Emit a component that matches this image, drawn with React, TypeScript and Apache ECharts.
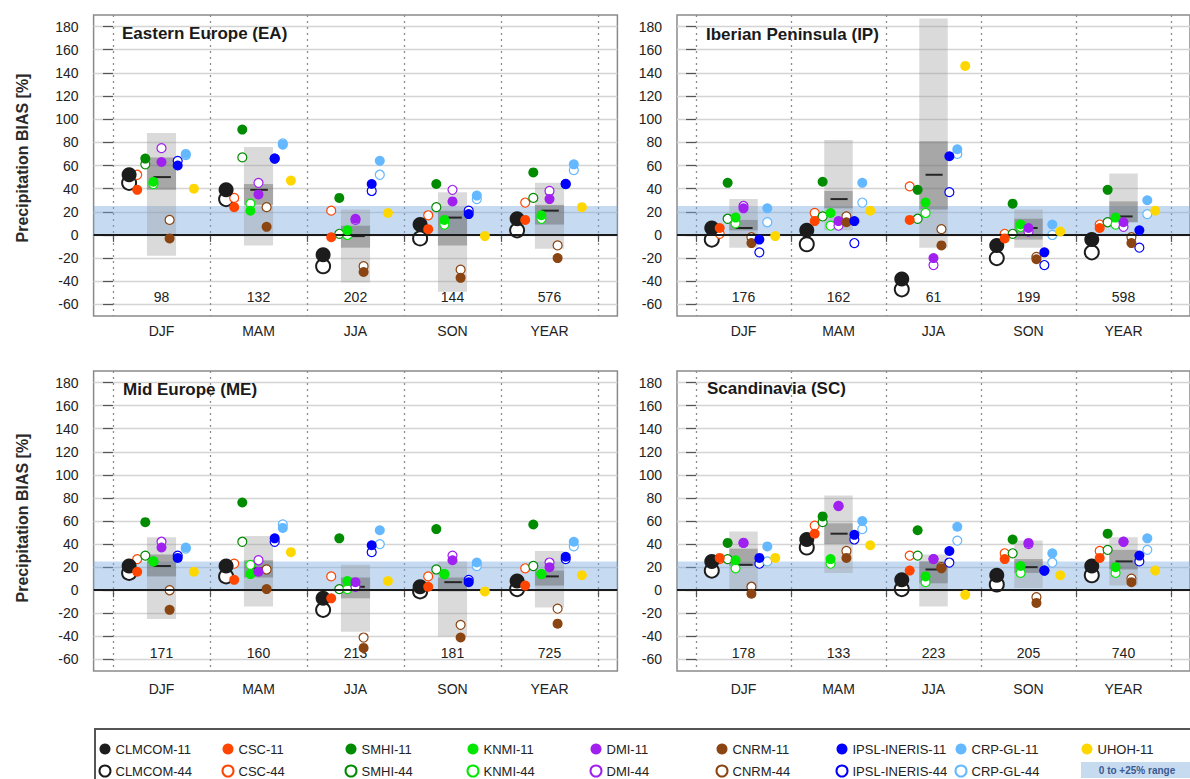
import React, { useEffect, useRef } from 'react';
import * as echarts from 'echarts';

// ---------- categories & labels ----------
const SEASONS = ['DJF', 'MAM', 'JJA', 'SON', 'YEAR'];
const MODELS = ['CLMCOM', 'CSC', 'SMHI', 'KNMI', 'DMI', 'CNRM', 'IPSL-INERIS', 'CRP-GL', 'UHOH'];
const MODEL_COLORS = ['#1c1c1c', '#ff4500', '#008b00', '#00e800', '#a020f0', '#8b4513', '#0000ff', '#63b8ff', '#ffd700'];
const Y_TICKS = [-60, -40, -20, 0, 20, 40, 60, 80, 100, 120, 140, 160, 180];
const X_BOUNDS = [0, 1, 2, 3, 4, 5];
const X_CENTERS = [0.5, 1.5, 2.5, 3.5, 4.5];
const RANGE_BAND = [0, 25];
const REGION_TITLES = ['Eastern Europe (EA)', 'Iberian Peninsula (IP)', 'Mid Europe (ME)', 'Scandinavia (SC)'];

// ---------- Eastern Europe ----------
// rows: models, columns: DJF, MAM, JJA, SON, YEAR
const EA_11 = [
  [52, 39, -17, 9, 14],
  [39, 24, -2, 5, 13],
  [66, 91, 32, 44, 54],
  [46, 21, 4, 13, 17],
  [63, 35, 14, 29, 31],
  [-3, 7, -32, -37, -20],
  [60, 66, 44, 18, 44],
  [70, 78, 64, 34, 61],
  [40, 47, 19, -1, 24],
];
const EA_44 = [
  [45, 31, -27, -3, 4],
  [52, 32, 21, 17, 28],
  [61, 67, 1, 24, 32],
  [44, 27, 0, 9, 14],
  [75, 45, 13, 39, 38],
  [13, 24, -27, -30, -9],
  [64, 66, 38, 21, 44],
  [69, 79, 52, 31, 56],
];
const EA_LO = [-18, -9, -41, -49, -12];
const EA_HI = [88, 76, 22, 37, 45];
const EA_Q1 = [39, 26, -11, -9, 9];
const EA_Q3 = [67, 44, 8, 21, 26];
const EA_MED = [50, 39, -1, 15, 21];
const EA_OBS = [98, 132, 202, 144, 576];

// ---------- Iberian Peninsula ----------
const IP_11 = [
  [6, 4, -38, -9, -4],
  [6, 12, 13, -3, 6],
  [45, 46, 39, 27, 39],
  [15, 19, 28, 9, 15],
  [23, 12, -20, 6, 11],
  [-7, 11, -9, -21, -7],
  [-4, 12, 68, -15, 4],
  [23, 45, 74, 9, 30],
  [-1, 21, 146, 3, 21],
];
const IP_44 = [
  [-4, -8, -47, -20, -15],
  [1, 19, 42, 1, 9],
  [14, 16, 14, 1, 11],
  [10, 8, 19, 7, 9],
  [25, 8, -26, 3, 7],
  [-2, 16, 5, -19, -2],
  [-15, -7, 37, -26, -11],
  [11, 28, 70, 0, 18],
];
const IP_LO = [-11, 4, -11, -11, 11];
const IP_HI = [31, 82, 187, 22, 53];
const IP_Q1 = [4, 23, 22, -4, 11];
const IP_Q3 = [13, 38, 81, 14, 29];
const IP_MED = [6, 31, 52, 6, 16];
const IP_OBS = [176, 162, 61, 199, 598];

// ---------- Mid Europe ----------
const ME_11 = [
  [21, 21, -7, 3, 8],
  [16, 9, -7, 3, 4],
  [59, 76, 45, 53, 57],
  [25, 14, 8, 14, 14],
  [37, 16, 7, 26, 20],
  [-17, 1, -50, -41, -29],
  [28, 45, 39, 7, 29],
  [37, 54, 52, 24, 42],
  [16, 33, 8, -1, 13],
];
const ME_44 = [
  [15, 12, -17, -1, 1],
  [27, 23, 12, 12, 19],
  [30, 42, 1, 18, 21],
  [25, 22, 1, 14, 14],
  [42, 26, 3, 30, 24],
  [0, 18, -41, -30, -16],
  [30, 42, 33, 9, 27],
  [36, 57, 40, 21, 38],
];
const ME_LO = [-25, -14, -36, -40, -15];
const ME_HI = [46, 47, 22, 25, 34];
const ME_Q1 = [12, 11, -7, -1, 4];
const ME_Q3 = [31, 26, 11, 11, 17];
const ME_MED = [21, 19, 3, 7, 12];
const ME_OBS = [171, 160, 213, 181, 725];

// ---------- Scandinavia ----------
const SC_11 = [
  [25, 44, 9, 13, 21],
  [28, 49, 17, 27, 28],
  [41, 64, 52, 44, 49],
  [26, 27, 12, 21, 20],
  [41, 73, 27, 41, 42],
  [-3, 28, 19, -11, 7],
  [28, 48, 34, 17, 30],
  [38, 60, 55, 32, 45],
  [28, 39, -4, 13, 17],
];
const SC_44 = [
  [17, 37, 1, 5, 13],
  [27, 56, 30, 32, 34],
  [27, 59, 30, 32, 35],
  [19, 23, 7, 15, 15],
  [41, 73, 27, 40, 42],
  [3, 34, 20, -6, 10],
  [23, 44, 24, 17, 25],
  [25, 53, 43, 24, 35],
];
const SC_LO = [1, 15, -14, 2, 4];
const SC_HI = [51, 82, 31, 43, 46];
const SC_Q1 = [21, 40, 6, 15, 18];
const SC_Q3 = [36, 58, 25, 27, 35];
const SC_MED = [22, 49, 18, 20, 25];
const SC_OBS = [178, 133, 223, 205, 740];

const PANELS = [
  { v11: EA_11, v44: EA_44, lo: EA_LO, hi: EA_HI, q1: EA_Q1, q3: EA_Q3, med: EA_MED, obs: EA_OBS },
  { v11: IP_11, v44: IP_44, lo: IP_LO, hi: IP_HI, q1: IP_Q1, q3: IP_Q3, med: IP_MED, obs: IP_OBS },
  { v11: ME_11, v44: ME_44, lo: ME_LO, hi: ME_HI, q1: ME_Q1, q3: ME_Q3, med: ME_MED, obs: ME_OBS },
  { v11: SC_11, v44: SC_44, lo: SC_LO, hi: SC_HI, q1: SC_Q1, q3: SC_Q3, med: SC_MED, obs: SC_OBS },
];

// ---------- layout (not data) ----------
const FONT = '"Liberation Sans", Arial, Helvetica, sans-serif';
const LAYOUT = [
  { left: 93.6, top: 15, width: 523.8, height: 301, titleLeft: 122, titleTop: 25, labelMargin: 8 },
  { left: 677, top: 15, width: 523.8, height: 301, titleLeft: 706, titleTop: 26, labelMargin: 8 },
  { left: 93.6, top: 371, width: 523.8, height: 300, titleLeft: 123, titleTop: 381, labelMargin: 11 },
  { left: 677, top: 371, width: 523.8, height: 300, titleLeft: 707, titleTop: 380, labelMargin: 11 },
];
const DX = 0.0835;
const BOX_HALF = 0.15;
const MED_HALF = 0.09;
const OBS_Y = -54;
const LEGEND_X = [104, 227, 350, 472, 595, 721, 841, 960, 1087];

function buildOption() {
  const grid: any[] = [];
  const xAxis: any[] = [];
  const yAxis: any[] = [];
  const series: any[] = [];
  const title: any[] = [];

  PANELS.forEach((panel, p) => {
    const L = LAYOUT[p];
    grid.push({
      left: L.left, top: L.top, width: L.width, height: L.height,
      show: true, borderColor: '#8a8a8a', borderWidth: 1.5, backgroundColor: '#ffffff',
    });
    title.push({
      text: REGION_TITLES[p], left: L.titleLeft, top: L.titleTop, padding: 0,
      textStyle: { fontSize: 17, fontWeight: 'bold', color: '#1a1a1a', fontFamily: FONT },
    });
    xAxis.push({
      type: 'value', gridIndex: p, min: -0.2, max: 5.2,
      axisLine: { show: false },
      axisTick: { show: true, customValues: X_BOUNDS, length: 7, lineStyle: { color: '#555', width: 1.2 } },
      axisLabel: {
        show: true, customValues: X_CENTERS, fontSize: 14, color: '#222', fontFamily: FONT, margin: L.labelMargin,
        formatter: (v: number) => SEASONS[Math.round(v - 0.5)] ?? '',
      },
      splitLine: { show: true, lineStyle: { color: '#8c8c8c', type: [2, 4], width: 1.3 } },
    });
    yAxis.push({
      type: 'value', gridIndex: p, min: -70, max: 190,
      axisLine: { show: false },
      axisTick: { show: true, customValues: Y_TICKS, length: 10, lineStyle: { color: '#555', width: 1.2 } },
      axisLabel: { show: true, customValues: Y_TICKS, fontSize: 14, color: '#222', fontFamily: FONT, margin: 15 },
      splitLine: { show: true, lineStyle: { color: '#d4d4d4', width: 1.3 } },
    });

    // 0..25% band
    series.push({
      type: 'scatter', xAxisIndex: p, yAxisIndex: p, data: [], silent: true, z: 1,
      markArea: {
        silent: true,
        itemStyle: { color: 'rgba(120,170,225,0.42)' },
        data: [[{ yAxis: RANGE_BAND[0] }, { yAxis: RANGE_BAND[1] }]],
      },
    });
    // ensemble boxes
    series.push({
      type: 'custom', xAxisIndex: p, yAxisIndex: p, silent: true, z: 2,
      data: SEASONS.map((_, j) => [j, panel.lo[j], panel.hi[j], panel.q1[j], panel.q3[j], panel.med[j]]),
      renderItem: (params: any, api: any) => {
        const s = api.value(0);
        const cx = s + 0.5;
        const a = api.coord([cx - BOX_HALF, api.value(2)]);
        const b = api.coord([cx + BOX_HALF, api.value(1)]);
        const c = api.coord([cx - BOX_HALF, api.value(4)]);
        const d = api.coord([cx + BOX_HALF, api.value(3)]);
        const m1 = api.coord([cx - MED_HALF + 0.006, api.value(5)]);
        const m2 = api.coord([cx + MED_HALF + 0.006, api.value(5)]);
        return {
          type: 'group',
          children: [
            { type: 'rect', shape: { x: a[0], y: a[1], width: b[0] - a[0], height: b[1] - a[1] }, style: { fill: 'rgba(150,150,150,0.35)' } },
            { type: 'rect', shape: { x: c[0], y: c[1], width: d[0] - c[0], height: d[1] - c[1] }, style: { fill: 'rgba(90,90,90,0.4)' } },
            { type: 'line', shape: { x1: m1[0], y1: m1[1], x2: m2[0], y2: m2[1] }, style: { stroke: '#262626', lineWidth: 2 } },
          ],
        };
      },
    });
    // zero line
    series.push({
      type: 'scatter', xAxisIndex: p, yAxisIndex: p, data: [], silent: true, z: 3,
      markLine: {
        silent: true, symbol: ['none', 'none'], label: { show: false },
        lineStyle: { color: '#1a1a1a', width: 2, type: 'solid' },
        data: [{ yAxis: 0 }],
      },
    });
    // observation numbers
    series.push({
      type: 'custom', xAxisIndex: p, yAxisIndex: p, silent: true, z: 3,
      data: SEASONS.map((_, j) => [j, panel.obs[j]]),
      renderItem: (params: any, api: any) => {
        const pt = api.coord([api.value(0) + 0.5, OBS_Y]);
        return {
          type: 'text', x: pt[0], y: pt[1],
          style: { text: String(api.value(1)), fill: '#222', font: `14px ${FONT}`, align: 'center', verticalAlign: 'middle' },
        };
      },
    });
    // -44 (open) first, then -11 (filled)
    panel.v44.forEach((vals, i) => {
      series.push({
        type: 'scatter', name: `${MODELS[i]}-44`, xAxisIndex: p, yAxisIndex: p, silent: true, z: 4,
        symbol: 'circle', symbolSize: i === 0 ? 14 : 9,
        itemStyle: { color: '#ffffff', borderColor: MODEL_COLORS[i], borderWidth: i === 0 ? 2 : 1.2, opacity: 1 },
        data: vals.map((v, j) => [j + 0.5 + (i - 4) * DX, v]),
      });
    });
    panel.v11.forEach((vals, i) => {
      series.push({
        type: 'scatter', name: `${MODELS[i]}-11`, xAxisIndex: p, yAxisIndex: p, silent: true, z: 5,
        symbol: 'circle', symbolSize: i === 0 ? 15 : 10,
        itemStyle: { color: MODEL_COLORS[i], opacity: 1 },
        data: vals.map((v, j) => [j + 0.5 + (i - 4) * DX, v]),
      });
    });
  });

  const legend = MODELS.map((m, i) => ({
    orient: 'vertical', left: LEGEND_X[i] - 5.5, top: 742.5, padding: 0,
    itemWidth: 11, itemHeight: 11, itemGap: 9, selectedMode: false,
    textStyle: { fontSize: 13, color: '#222', fontFamily: FONT },
    data: i < 8 ? [`${m}-11`, `${m}-44`] : [`${m}-11`],
  }));

  const graphic: any[] = [
    { type: 'rect', shape: { x: 95, y: 729, width: 1200, height: 80 }, style: { fill: 'none', stroke: '#555', lineWidth: 2 }, silent: true },
    { type: 'rect', shape: { x: 1081, y: 762, width: 115, height: 16 }, style: { fill: '#c6daf0' }, silent: true },
    { type: 'text', x: 1137, y: 770, silent: true, style: { text: '0 to +25% range', fill: '#3a5a90', font: `bold 10px ${FONT}`, align: 'center', verticalAlign: 'middle' } },
    { type: 'text', x: 22, y: 158, rotation: Math.PI / 2, silent: true, style: { text: 'Precipitation BIAS [%]', fill: '#2a2a2a', font: `bold 16px ${FONT}`, align: 'center', verticalAlign: 'middle' } },
    { type: 'text', x: 22, y: 518, rotation: Math.PI / 2, silent: true, style: { text: 'Precipitation BIAS [%]', fill: '#2a2a2a', font: `bold 16px ${FONT}`, align: 'center', verticalAlign: 'middle' } },
  ];

  return {
    animation: false,
    backgroundColor: '#ffffff',
    textStyle: { fontFamily: FONT },
    title, grid, xAxis, yAxis, series, legend, graphic,
  };
}

export default function App() {
  const ref = useRef<HTMLDivElement>(null);
  useEffect(() => {
    if (!ref.current) return;
    const chart = echarts.init(ref.current, undefined, { renderer: 'svg' });
    chart.setOption(buildOption() as any);
    return () => chart.dispose();
  }, []);
  return <div ref={ref} style={{ position: 'fixed', left: 0, top: 0, width: 1190, height: 779 }} />;
}
